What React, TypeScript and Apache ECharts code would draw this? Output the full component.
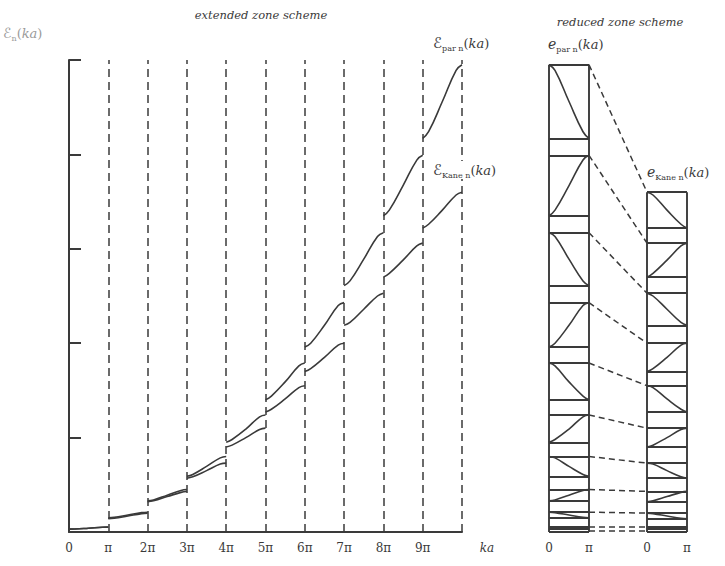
import React, { useEffect, useRef } from "react";
import * as echarts from "echarts";

// offsets (in units of pi) inside one zone where band energies are read
const bandOffsets = [0, 0.15, 0.5, 0.85, 1];

// parabolic model, band n spans ka in [(n-1)pi, n pi]; energies in axis units
const parBands = [
  [0.03, 0.031, 0.04, 0.05, 0.052],
  [0.15, 0.155, 0.18, 0.205, 0.21],
  [0.33, 0.34, 0.39, 0.44, 0.45],
  [0.59, 0.61, 0.695, 0.785, 0.8],
  [0.95, 0.98, 1.09, 1.22, 1.24],
  [1.4, 1.44, 1.59, 1.76, 1.79],
  [1.96, 2.0, 2.19, 2.4, 2.43],
  [2.61, 2.66, 2.89, 3.13, 3.17],
  [3.35, 3.41, 3.67, 3.94, 3.99],
  [4.17, 4.24, 4.56, 4.89, 4.95],
];

// Kane (non-parabolic) model
const kaneBands = [
  [0.03, 0.031, 0.04, 0.05, 0.052],
  [0.14, 0.145, 0.17, 0.195, 0.2],
  [0.32, 0.33, 0.375, 0.42, 0.43],
  [0.57, 0.585, 0.65, 0.72, 0.73],
  [0.9, 0.92, 1.0, 1.085, 1.1],
  [1.27, 1.3, 1.41, 1.53, 1.55],
  [1.7, 1.73, 1.85, 1.98, 2.0],
  [2.19, 2.22, 2.36, 2.5, 2.53],
  [2.7, 2.74, 2.88, 3.03, 3.06],
  [3.22, 3.26, 3.41, 3.57, 3.6],
];

const zoneBoundaries = [1, 2, 3, 4, 5, 6, 7, 8, 9, 10];
const extendedTickLabels = ["0", "π", "2π", "3π", "4π", "5π", "6π", "7π", "8π", "9π", ""];
const reducedTickLabels = ["0", "π", "0", "π"];

export default function App() {
  const ref = useRef<HTMLDivElement>(null);

  useEffect(() => {
    if (!ref.current) return;
    const chart = echarts.init(ref.current, null, { renderer: "svg" });
    const ink = "#3a3a3a";
    const serif = '"DejaVu Serif", "Liberation Serif", serif';
    const scriptFont = '"DejaVu Sans", "Noto Sans", sans-serif';
    const KX = 2.45; // left edge of the Kane column in reduced-grid units
    const reducedTickValues = [0, 1, KX, KX + 1];

    const series: any[] = [];
    const addCurve = (data: number[][], axis: number) =>
      series.push({
        type: "line",
        xAxisIndex: axis,
        yAxisIndex: axis,
        data,
        smooth: 0.45,
        symbol: "none",
        silent: true,
        lineStyle: { color: ink, width: 1.6 },
        z: 3,
      });

    parBands.forEach((b, i) => {
      addCurve(bandOffsets.map((o, j) => [i + o, b[j]]), 0);
      addCurve(bandOffsets.map((o, j) => [i % 2 === 0 ? o : 1 - o, b[j]]), 1);
    });
    kaneBands.forEach((b, i) => {
      addCurve(bandOffsets.map((o, j) => [i + o, b[j]]), 0);
      addCurve(bandOffsets.map((o, j) => [KX + (i % 2 === 0 ? o : 1 - o), b[j]]), 1);
    });

    // zone boundaries (extended scheme)
    series.push({
      type: "lines",
      coordinateSystem: "cartesian2d",
      xAxisIndex: 0,
      yAxisIndex: 0,
      silent: true,
      z: 2,
      lineStyle: { color: ink, width: 1.5, type: [8, 5], opacity: 1 },
      data: zoneBoundaries.map((n) => ({ coords: [[n, 0], [n, 5]] })),
    });

    // reduced zone boxes
    const boxLines: any[] = [];
    const addColumn = (bands: number[][], x0: number) => {
      const top = bands[bands.length - 1][bands[0].length - 1];
      boxLines.push({ coords: [[x0, 0], [x0, top]] });
      boxLines.push({ coords: [[x0 + 1, 0], [x0 + 1, top]] });
      boxLines.push({ coords: [[x0, 0], [x0 + 1, 0]] });
      bands.forEach((b) => {
        boxLines.push({ coords: [[x0, b[0]], [x0 + 1, b[0]]] });
        boxLines.push({ coords: [[x0, b[b.length - 1]], [x0 + 1, b[b.length - 1]]] });
      });
    };
    addColumn(parBands, 0);
    addColumn(kaneBands, KX);
    series.push({
      type: "lines",
      coordinateSystem: "cartesian2d",
      xAxisIndex: 1,
      yAxisIndex: 1,
      silent: true,
      z: 2,
      lineStyle: { color: ink, width: 1.9, opacity: 1 },
      data: boxLines,
    });

    // connectors between the two reduced columns
    const connectors = parBands.map((b, i) => ({
      coords: [
        [1, b[b.length - 1]],
        [KX, kaneBands[i][kaneBands[i].length - 1]],
      ],
    }));
    connectors.push({ coords: [[1, 0.012], [KX, 0.012]] });
    series.push({
      type: "lines",
      coordinateSystem: "cartesian2d",
      xAxisIndex: 1,
      yAxisIndex: 1,
      silent: true,
      z: 2,
      lineStyle: { color: ink, width: 1.5, type: [6, 4], opacity: 1 },
      data: connectors,
    });

    const labelFont = { fontFamily: serif, fontSize: 12, color: ink };

    const makeRich = (color: string, big: number, scriptLead: boolean) => ({
      E: scriptLead
        ? { fontFamily: scriptFont, fontSize: big, lineHeight: 18, verticalAlign: "middle", fill: color }
        : { fontFamily: serif, fontStyle: "italic", fontSize: big, lineHeight: 18, verticalAlign: "middle", fill: color },
      s: { fontFamily: serif, fontSize: 8, lineHeight: 8, verticalAlign: "bottom", fill: color },
      p: { fontFamily: serif, fontSize: 13, lineHeight: 18, verticalAlign: "middle", fill: color },
      i: { fontFamily: serif, fontStyle: "italic", fontSize: 13, lineHeight: 18, verticalAlign: "middle", fill: color },
    });
    const richText = (lead: string, sub: string) => `{E|${lead}}{s|${sub}}{p|(}{i|ka}{p|)}`;

    chart.setOption({
      animation: false,
      backgroundColor: "#ffffff",
      grid: [
        { left: 69, top: 60, width: 393, height: 472 },
        { left: 549, top: 60, width: 138, height: 472 },
      ],
      xAxis: [
        {
          gridIndex: 0,
          type: "value",
          min: 0,
          max: 10,
          interval: 1,
          axisLine: { show: true, lineStyle: { color: ink, width: 2 } },
          axisTick: { show: false },
          splitLine: { show: false },
          axisLabel: {
            ...labelFont,
            margin: 10,
            showMinLabel: true,
            showMaxLabel: true,
            formatter: (v: number) => extendedTickLabels[Math.round(v)] ?? "",
          },
        },
        {
          gridIndex: 1,
          type: "value",
          min: 0,
          max: KX + 1,
          axisLine: { show: false },
          axisTick: { show: false },
          splitLine: { show: false },
          axisLabel: {
            ...labelFont,
            margin: 10,
            showMinLabel: true,
            showMaxLabel: true,
            customValues: reducedTickValues,
            formatter: (v: number) => {
              const k = reducedTickValues.findIndex((t) => Math.abs(t - v) < 1e-6);
              return k >= 0 ? reducedTickLabels[k] : "";
            },
          },
        },
      ],
      yAxis: [
        {
          gridIndex: 0,
          type: "value",
          min: 0,
          max: 5,
          interval: 1,
          axisLine: { show: true, lineStyle: { color: ink, width: 2 } },
          axisTick: { show: true, inside: true, length: 12, lineStyle: { color: ink, width: 2 } },
          axisLabel: { show: false },
          splitLine: { show: false },
        },
        { gridIndex: 1, type: "value", min: 0, max: 5, show: false },
      ],
      graphic: [
        {
          type: "text",
          x: 261,
          y: 15,
          style: { text: "extended zone scheme", font: `italic 11.5px ${serif}`, fill: ink, align: "center", verticalAlign: "middle" },
        },
        {
          type: "text",
          x: 620,
          y: 22,
          style: { text: "reduced zone scheme", font: `italic 11.5px ${serif}`, fill: ink, align: "center", verticalAlign: "middle" },
        },
        {
          type: "text",
          x: 487,
          y: 548,
          style: { text: "ka", font: `italic 12px ${serif}`, fill: ink, align: "center", verticalAlign: "middle" },
        },
        {
          type: "text",
          x: 3,
          y: 24,
          style: { text: richText("ℰ", "n"), rich: makeRich("#9a9a9a", 14, true) },
        },
        { type: "text", x: 433, y: 34, z: 10, style: { text: richText("ℰ", "par n"), rich: makeRich(ink, 15, true) } },
        {
          type: "text",
          x: 433,
          y: 161,
          z: 10,
          style: { text: richText("ℰ", "Kane n"), rich: makeRich(ink, 15, true), backgroundColor: "#fff" },
        },
        { type: "text", x: 548, y: 35, z: 10, style: { text: richText("e", "par n"), rich: makeRich(ink, 14, false) } },
        { type: "text", x: 647, y: 163, z: 10, style: { text: richText("e", "Kane n"), rich: makeRich(ink, 14, false) } },
      ],
      series,
    });

    return () => chart.dispose();
  }, []);

  return (
    <div
      ref={ref}
      style={{ position: "absolute", left: 0, top: 0, width: 725, height: 566, background: "#fff" }}
    />
  );
}
